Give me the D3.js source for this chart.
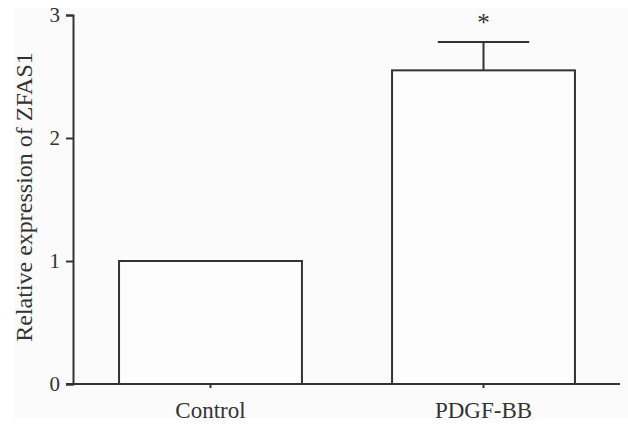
<html>
<script src="https://d3js.org/d3.v7.min.js"></script>
<style>
  body { margin: 0; background: #fff; }
  text { font-family: "Liberation Serif", "DejaVu Serif", serif; fill: #333; }
</style>
<body>
<svg id="chart" width="628" height="429"></svg>
<script>
// data
var groups = ["Control", "PDGF-BB"];
var means = [1.0, 2.55];
var errs = [0, 0.23];
var marks = ["", "*"];
var yTicks = [0, 1, 2, 3];

var svg = d3.select("#chart");
svg.append("rect").attr("x", 14).attr("y", 8).attr("width", 614).attr("height", 410).attr("fill", "#fbfbfb");

var x = d3.scaleBand().domain(groups).range([74, 620]).paddingInner(0.33).paddingOuter(0.165);
var y = d3.scaleLinear().domain([0, 3]).range([384, 15]);
var ink = "#333";

// bars
svg.selectAll("rect.bar").data(groups).enter().append("rect")
  .attr("class", "bar")
  .attr("x", function(d) { return x(d); })
  .attr("y", function(d, i) { return y(means[i]); })
  .attr("width", x.bandwidth())
  .attr("height", function(d, i) { return y(0) - y(means[i]); })
  .attr("fill", "#fdfdfd").attr("stroke", ink).attr("stroke-width", 2);

// error bars (upper only)
var eb = svg.append("g").attr("stroke", ink).attr("stroke-width", 2);
groups.forEach(function(g, i) {
  if (!errs[i]) return;
  var cx = x(g) + x.bandwidth() / 2;
  eb.append("line").attr("x1", cx).attr("x2", cx)
    .attr("y1", y(means[i])).attr("y2", y(means[i] + errs[i]));
  eb.append("line").attr("x1", cx - x.bandwidth() / 4).attr("x2", cx + x.bandwidth() / 4)
    .attr("y1", y(means[i] + errs[i])).attr("y2", y(means[i] + errs[i]));
});

// significance marks
svg.selectAll("text.sig").data(groups).enter().append("text")
  .attr("class", "sig")
  .attr("x", function(d) { return x(d) + x.bandwidth() / 2; })
  .attr("y", function(d, i) { return y(means[i] + errs[i]) - 11; })
  .attr("text-anchor", "middle")
  .style("font-size", "25px")
  .text(function(d, i) { return marks[i]; });

// y axis
var yAxis = svg.append("g").attr("transform", "translate(73,0)")
  .call(d3.axisLeft(y).tickValues(yTicks).tickFormat(d3.format("d")).tickSize(7).tickPadding(6));
yAxis.selectAll("path, line").attr("stroke", ink).attr("stroke-width", 2);
yAxis.selectAll("text").style("font-size", "21px").attr("fill", ink)
  .style("font-family", "Liberation Serif, serif");

// x axis
var xAxis = svg.append("g").attr("transform", "translate(0,384)")
  .call(d3.axisBottom(x).tickSize(4).tickSizeOuter(0).tickPadding(14));
xAxis.select("path").attr("d", "M66,0H620");
xAxis.selectAll("path, line").attr("stroke", ink).attr("stroke-width", 2);
xAxis.selectAll("text").style("font-size", "23px").attr("fill", ink)
  .style("font-family", "Liberation Serif, serif");

// y title
svg.append("text")
  .attr("transform", "translate(32,197) rotate(-90)")
  .attr("text-anchor", "middle")
  .style("font-size", "24px")
  .text("Relative expression of ZFAS1");
</script>
</body>
</html>
